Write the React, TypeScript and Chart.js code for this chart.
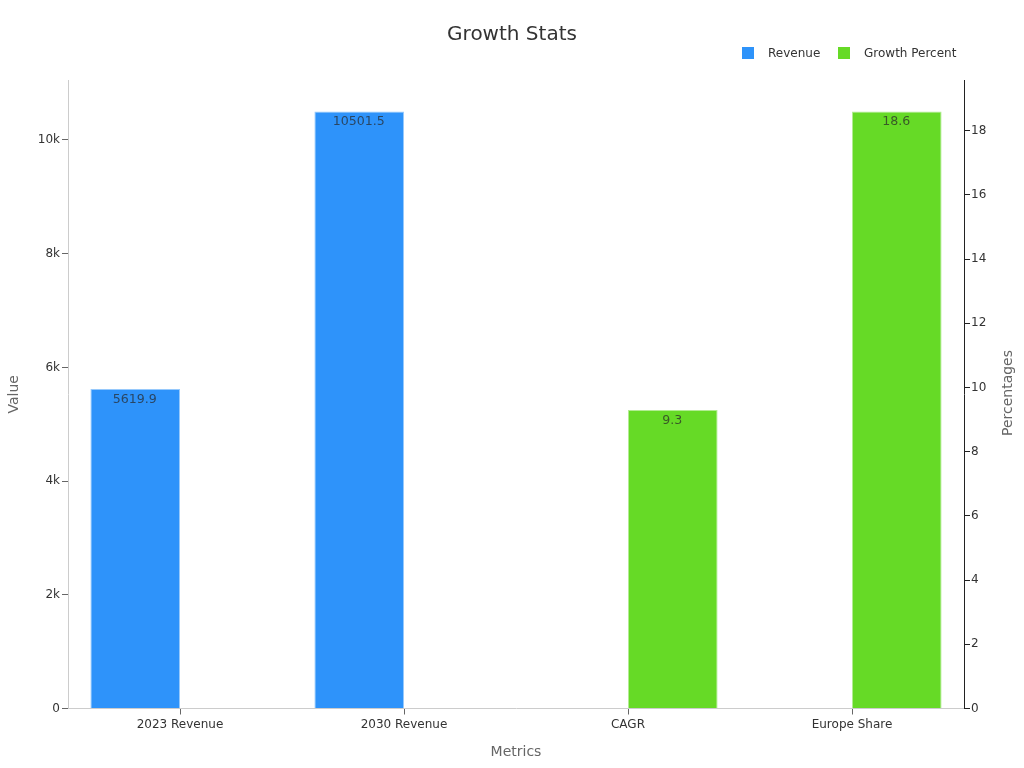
import React, { useEffect, useRef } from "react";
import { Chart, registerables } from "chart.js";

Chart.register(...registerables);

const categories = ["2023 Revenue", "2030 Revenue", "CAGR", "Europe Share"];
const revenue = [5619.9, 10501.5, null, null];
const growthPercent = [null, null, 9.3, 18.6];

const FONT = "'DejaVu Sans', sans-serif";

const barLabels = {
  id: "barLabels",
  afterDatasetsDraw(chart: any) {
    const ctx = chart.ctx;
    ctx.save();
    ctx.font = `12.6px ${FONT}`;
    ctx.fillStyle = "rgba(40, 40, 40, 0.72)";
    ctx.textAlign = "center";
    ctx.textBaseline = "middle";
    chart.data.datasets.forEach((ds: any, i: number) => {
      chart.getDatasetMeta(i).data.forEach((bar: any, j: number) => {
        if (ds.data[j] == null) return;
        ctx.fillText(String(ds.data[j]), bar.x - 0.5, bar.y + 10.5);
      });
    });
    ctx.restore();
  },
};

// the built-in legend can't do the wider gap between box and text,
// and the right axis title has to read bottom to top
const extras = {
  id: "extras",
  afterDraw(chart: any) {
    const ctx = chart.ctx;
    const starts = [742, 838];
    ctx.save();
    ctx.font = `12px ${FONT}`;
    ctx.textAlign = "left";
    ctx.textBaseline = "middle";
    chart.data.datasets.forEach((ds: any, i: number) => {
      ctx.fillStyle = ds.backgroundColor;
      ctx.fillRect(starts[i], 47, 12, 12);
      ctx.fillStyle = "#333333";
      ctx.fillText(ds.label, starts[i] + 26, 54);
    });
    ctx.restore();

    ctx.save();
    ctx.translate(1008, 393);
    ctx.rotate(-Math.PI / 2);
    ctx.font = `14px ${FONT}`;
    ctx.fillStyle = "#666666";
    ctx.textAlign = "center";
    ctx.textBaseline = "middle";
    ctx.fillText("Percentages", 0, 0);
    ctx.restore();
  },
};

export default function App() {
  const canvasRef = useRef<HTMLCanvasElement>(null);

  useEffect(() => {
    const chart = new Chart(canvasRef.current!, {
      type: "bar",
      data: {
        labels: categories,
        datasets: [
          {
            label: "Revenue",
            data: revenue,
            yAxisID: "y",
            backgroundColor: "#2E93FA",
            borderColor: "#96C9FC",
            borderWidth: 1,
            categoryPercentage: 0.8,
            barPercentage: 1,
          },
          {
            label: "Growth Percent",
            data: growthPercent,
            yAxisID: "y1",
            backgroundColor: "#66DA26",
            borderColor: "#B2EC92",
            borderWidth: 1,
            categoryPercentage: 0.8,
            barPercentage: 1,
          },
        ],
      } as any,
      plugins: [barLabels, extras],
      options: {
        responsive: false,
        animation: false,
        devicePixelRatio: 1,
        layout: { padding: 0 },
        plugins: {
          legend: { display: false },
          tooltip: { enabled: false },
          title: {
            display: true,
            text: "Growth Stats",
            color: "#333333",
            font: { family: FONT, size: 20, weight: "normal" },
            padding: { top: 23, bottom: 33 },
          },
        },
        scales: {
          x: {
            grid: { offset: false, drawOnChartArea: false, tickLength: 6, tickColor: "#666666" },
            border: { color: "#CCCCCC" },
            ticks: { color: "#333333", font: { family: FONT, size: 12 }, padding: 3, maxRotation: 0 },
            title: {
              display: true,
              text: "Metrics",
              color: "#666666",
              font: { family: FONT, size: 14 },
              padding: { top: 12, bottom: 7 },
            },
            afterFit: (s: any) => {
              s.height = 59.5;
            },
          },
          y: {
            position: "left",
            beginAtZero: true,
            max: 11055,
            grid: { drawOnChartArea: false, tickLength: 6, tickColor: "#666666" },
            border: { color: "#CCCCCC" },
            ticks: {
              stepSize: 2000,
              includeBounds: false,
              color: "#333333",
              font: { family: FONT, size: 12 },
              padding: 2,
              callback: (v: any) => (v === 0 ? "0" : `${v / 1000}k`),
            },
            title: {
              display: true,
              text: "Value",
              color: "#666666",
              font: { family: FONT, size: 14 },
              padding: { top: 6, bottom: 0 },
            },
            afterFit: (s: any) => {
              s.width = 68;
            },
          },
          y1: {
            position: "right",
            beginAtZero: true,
            max: 19.58,
            grid: { drawOnChartArea: false, tickLength: 6, tickColor: "#222222" },
            border: { color: "#222222" },
            ticks: {
              stepSize: 2,
              includeBounds: false,
              color: "#333333",
              font: { family: FONT, size: 12 },
              padding: 1,
            },
            afterFit: (s: any) => {
              s.width = 60;
            },
          },
        },
      } as any,
    });
    return () => {
      chart.destroy();
    };
  }, []);

  return (
    <div style={{ position: "absolute", left: 0, top: 0 }}>
      <canvas ref={canvasRef} width={1024} height={768} style={{ display: "block" }}></canvas>
    </div>
  );
}
